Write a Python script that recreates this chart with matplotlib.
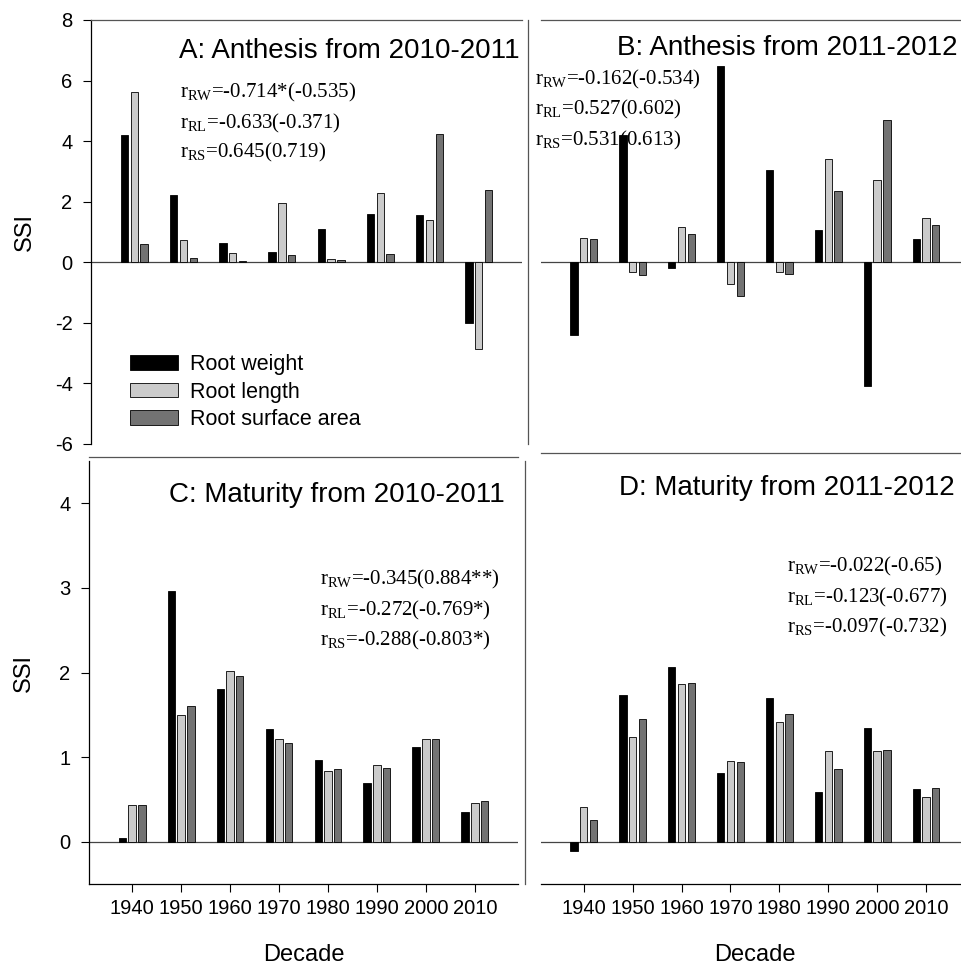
import numpy as np
import matplotlib
matplotlib.use('Agg')
import matplotlib.pyplot as plt
from matplotlib.patches import Patch

plt.rcParams['font.family'] = ['Liberation Sans', 'DejaVu Sans']
plt.rcParams['mathtext.fontset'] = 'custom'
plt.rcParams['mathtext.rm'] = 'Liberation Serif'
plt.rcParams['mathtext.it'] = 'Liberation Serif:italic'
plt.rcParams['axes.unicode_minus'] = False

decades = ['1940', '1950', '1960', '1970', '1980', '1990', '2000', '2010']
series = ['Root weight', 'Root length', 'Root surface area']
colors = ['#000000', '#cbcbcb', '#737373']

# SSI per decade: root weight / root length / root surface area
anthesis_1011_rw = [4.19, 2.21, 0.64, 0.35, 1.09, 1.60, 1.55, -2.01]
anthesis_1011_rl = [5.62, 0.72, 0.30, 1.97, 0.10, 2.29, 1.38, -2.87]
anthesis_1011_rs = [0.60, 0.14, 0.04, 0.24, 0.08, 0.27, 4.23, 2.40]

anthesis_1112_rw = [-2.39, 4.19, -0.19, 6.49, 3.05, 1.06, -4.09, 0.77]
anthesis_1112_rl = [0.79, -0.33, 1.18, -0.71, -0.33, 3.42, 2.70, 1.45]
anthesis_1112_rs = [0.77, -0.41, 0.94, -1.12, -0.39, 2.34, 4.70, 1.22]

maturity_1011_rw = [0.05, 2.96, 1.80, 1.33, 0.97, 0.69, 1.12, 0.35]
maturity_1011_rl = [0.44, 1.50, 2.02, 1.22, 0.84, 0.91, 1.22, 0.46]
maturity_1011_rs = [0.43, 1.60, 1.96, 1.17, 0.86, 0.87, 1.21, 0.48]

maturity_1112_rw = [-0.11, 1.74, 2.06, 0.81, 1.70, 0.59, 1.35, 0.62]
maturity_1112_rl = [0.41, 1.24, 1.86, 0.96, 1.41, 1.07, 1.07, 0.53]
maturity_1112_rs = [0.26, 1.45, 1.88, 0.94, 1.51, 0.86, 1.08, 0.63]

# correlation coefficients printed in each panel
r_keys = ['RW', 'RL', 'RS']
r_anthesis_1011 = ['=-0.714*(-0.535)', '=-0.633(-0.371)', '=0.645(0.719)']
r_anthesis_1112 = ['=-0.162(-0.534)', '=0.527(0.602)', '=0.531(0.613)']
r_maturity_1011 = ['=-0.345(0.884**)', '=-0.272(-0.769*)', '=-0.288(-0.803*)']
r_maturity_1112 = ['=-0.022(-0.65)', '=-0.123(-0.677)', '=-0.097(-0.732)']

titles = ['A: Anthesis from 2010-2011', 'B: Anthesis from 2011-2012',
          'C: Maturity from 2010-2011', 'D: Maturity from 2011-2012']

fig = plt.figure(figsize=(9.61, 9.65), dpi=100)
ax_a = fig.add_axes([0.0947, 0.5399, 0.4485, 0.4394])
ax_b = fig.add_axes([0.5627, 0.5399, 0.4457, 0.4394])
ax_c = fig.add_axes([0.0926, 0.0839, 0.4464, 0.4383])
ax_d = fig.add_axes([0.5627, 0.0839, 0.4457, 0.4383])

x = np.arange(len(decades))
width = 0.15
offsets = [-0.2, 0.0, 0.2]


def draw_bars(ax, rw, rl, rs):
    for vals, off, col, lab in zip([rw, rl, rs], offsets, colors, series):
        ax.bar(x + off, vals, width, color=col, edgecolor='black',
               linewidth=0.6, label=lab, zorder=3)
    ax.axhline(0, color='#444444', lw=0.9, zorder=2)
    ax.set_xlim(-0.88, 7.88)
    for s in ax.spines.values():
        s.set_visible(False)
        s.set_color('#555555')
        s.set_linewidth(0.9)
    ax.tick_params(direction='out', length=5.8, width=0.8, labelsize=14.5,
                   pad=5, colors='black')
    ax.set_xticks([])
    ax.set_yticks([])


def add_r(ax, x0, ys, texts):
    for y0, key, txt in zip(ys, r_keys, texts):
        ax.text(x0, y0, r'r$_{\mathrm{%s}}$' % key + txt, transform=ax.transAxes,
                family='Liberation Serif', fontsize=15, va='baseline',
                ha='left')


draw_bars(ax_a, anthesis_1011_rw, anthesis_1011_rl, anthesis_1011_rs)
draw_bars(ax_b, anthesis_1112_rw, anthesis_1112_rl, anthesis_1112_rs)
draw_bars(ax_c, maturity_1011_rw, maturity_1011_rl, maturity_1011_rs)
draw_bars(ax_d, maturity_1112_rw, maturity_1112_rl, maturity_1112_rs)

# anthesis panels
for ax in (ax_a, ax_b):
    ax.set_ylim(-6, 8)
ax_a.spines['left'].set_visible(True)
ax_a.spines['left'].set_color('black')
ax_a.spines['top'].set_visible(True)
ax_a.set_yticks(np.arange(-6, 9, 2))
ax_a.tick_params(axis='y', pad=7.5)

ax_b.spines['top'].set_visible(True)
ax_b.spines['left'].set_visible(True)
ax_b.spines['left'].set_position(('outward', 9.4))
ax_b.spines['bottom'].set_visible(True)
ax_b.spines['bottom'].set_position(('outward', 6.5))

# maturity panels
for ax in (ax_c, ax_d):
    ax.set_ylim(-0.5, 4.5)
    ax.set_xticks(x)
    ax.set_xticklabels(decades)
    ax.spines['bottom'].set_visible(True)
    ax.spines['bottom'].set_color('black')
    ax.set_xlabel('Decade', fontsize=17)
    ax.xaxis.set_label_coords(0.5, -0.142)
ax_c.spines['left'].set_visible(True)
ax_c.spines['left'].set_color('black')
ax_c.spines['top'].set_visible(True)
ax_c.spines['top'].set_position(('outward', 2.9))
ax_c.set_yticks(np.arange(0, 5, 1))
ax_c.tick_params(axis='y', pad=7.5)

ax_d.spines['left'].set_visible(True)
ax_d.spines['left'].set_position(('outward', 11.3))

for ax in (ax_a, ax_c):
    ax.set_ylabel('SSI', fontsize=17)
    ax.yaxis.set_label_coords(-0.127, 0.5)

# panel titles
title_pos = [(0.995, 0.910), (0.972, 0.917), (0.970, 0.904), (0.967, 0.920)]
for ax, t, (tx, ty) in zip((ax_a, ax_b, ax_c, ax_d), titles, title_pos):
    ax.text(tx, ty, t, transform=ax.transAxes, fontsize=20, ha='right',
            va='baseline')

add_r(ax_a, 0.2065, [0.818, 0.745, 0.675], r_anthesis_1011)
add_r(ax_b, -0.013, [0.847, 0.776, 0.705], r_anthesis_1112)
add_r(ax_c, 0.538, [0.708, 0.636, 0.565], r_maturity_1011)
add_r(ax_d, 0.575, [0.738, 0.666, 0.595], r_maturity_1112)

handles = [Patch(facecolor=c, edgecolor='black', linewidth=0.6) for c in colors]
ax_a.legend(handles, series, loc='upper left', bbox_to_anchor=(0.0905, 0.212),
            frameon=False, fontsize=15.5, handlelength=2.25, handleheight=0.65,
            handletextpad=0.55, labelspacing=0.3, borderpad=0, borderaxespad=0)

fig.savefig('out.png', dpi=100)
